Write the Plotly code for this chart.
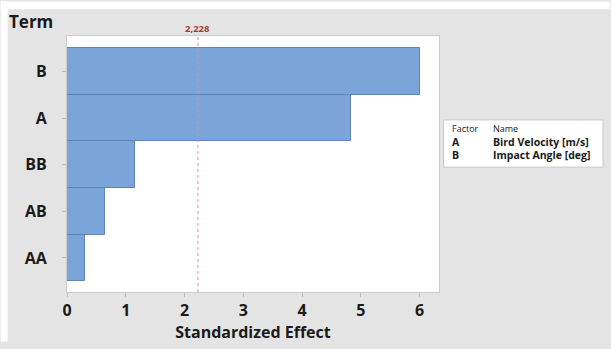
import plotly.graph_objects as go

# Pareto chart of standardized effects
terms = ["B", "A", "BB", "AB", "AA"]
effects = [6.00, 4.83, 1.165, 0.64, 0.30]
critical_value = 2.228
critical_label = "2,228"
x_ticks = [0, 1, 2, 3, 4, 5, 6]
factor_codes = ["A", "B"]
factor_names = ["Bird Velocity [m/s]", "Impact Angle [deg]"]

W, H = 611, 349
L, R, T, B = 66.5, 171.5, 35.5, 51
pw, ph = W - L - R, H - T - B

def px_x(x):
    return (x - L) / pw

def px_y(y):
    return (H - B - y) / ph

FONT = "Open Sans"
BG = "#e4e4e4"
INK = "#1a1a1a"

fig = go.Figure()
fig.add_trace(go.Bar(
    y=terms, x=effects, orientation="h",
    marker=dict(color="#7ba4d8", line=dict(color="#5c84b8", width=1)),
    width=1.0, hoverinfo="x+y",
))

shapes = [
    # white strips framing the grey panel
    dict(type="rect", xref="paper", yref="paper", x0=px_x(0), x1=px_x(W),
         y0=px_y(8), y1=px_y(0), fillcolor="white", line_width=0, layer="below"),
    dict(type="rect", xref="paper", yref="paper", x0=px_x(0), x1=px_x(7),
         y0=px_y(H), y1=px_y(0), fillcolor="white", line_width=0, layer="below"),
    # reference line
    dict(type="line", xref="x", yref="paper", x0=critical_value, x1=critical_value,
         y0=0, y1=1, line=dict(color="#ec8a8a", width=1, dash="dot")),
    # factor table box
    dict(type="rect", xref="paper", yref="paper", x0=px_x(444), x1=px_x(604),
         y0=px_y(170), y1=px_y(121.5), fillcolor="white",
         line=dict(color="#c8c8c8", width=1)),
]

codes_text = "<span style='font-size:9px'>Factor</span><br>" + "<br>".join(
    f"<b>{c}</b>" for c in factor_codes)
names_text = "<span style='font-size:9px'>Name</span><br>" + "<br>".join(
    f"<b>{n}</b>" for n in factor_names)

ann = [
    dict(text="Term", x=px_x(6), y=px_y(7), xref="paper", yref="paper",
         xanchor="left", yanchor="top", showarrow=False,
         font=dict(family=FONT, size=17, color=INK, weight=700)),
    dict(text=critical_label, x=critical_value, y=px_y(19), xref="x", yref="paper",
         xanchor="center", yanchor="top", showarrow=False,
         font=dict(family=FONT, size=9.5, color="#b03a3a", weight=700)),
    dict(text=codes_text, x=px_x(451), y=px_y(122), xref="paper", yref="paper",
         xanchor="left", yanchor="top", align="left", showarrow=False,
         font=dict(family=FONT, size=10.5, color=INK)),
    dict(text=names_text, x=px_x(492), y=px_y(122), xref="paper", yref="paper",
         xanchor="left", yanchor="top", align="left", showarrow=False,
         font=dict(family=FONT, size=10.5, color=INK)),
]

fig.update_layout(
    width=W, height=H,
    margin=dict(l=L, r=R, t=T, b=B, pad=0),
    paper_bgcolor=BG, plot_bgcolor="white",
    bargap=0, showlegend=False,
    shapes=shapes, annotations=ann,
    xaxis=dict(range=[0, 6.33], tickvals=x_ticks, ticks="outside", ticklen=4,
               tickcolor="#bbbbbb", showgrid=False, zeroline=False,
               showline=True, linecolor="#cccccc", mirror=True,
               tickfont=dict(family=FONT, size=16, color=INK, weight=700),
               title=dict(text="Standardized Effect", standoff=5,
                          font=dict(family=FONT, size=16, color=INK, weight=700))),
    yaxis=dict(type="category", categoryorder="array", categoryarray=terms,
               range=[4.73, -0.76], ticks="outside", ticklen=4, tickcolor="#bbbbbb",
               showgrid=False, zeroline=False, showline=True, linecolor="#cccccc",
               mirror=True, ticklabelstandoff=12,
               tickfont=dict(family=FONT, size=16, color=INK, weight=700)),
)

fig.write_html("out.html")
